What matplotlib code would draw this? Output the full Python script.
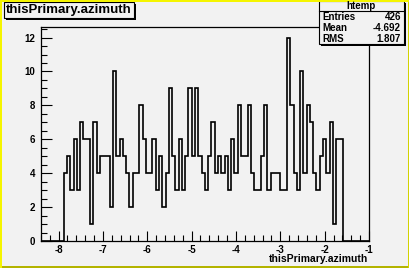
import matplotlib
matplotlib.use("Agg")
import matplotlib.pyplot as plt
from matplotlib.patches import Rectangle
from matplotlib.ticker import MultipleLocator
import numpy as np

plt.rcParams['font.family'] = ['Liberation Sans', 'DejaVu Sans']
plt.rcParams['axes.unicode_minus'] = False

# htemp: 100 bins on [-8.4, -1], filled from bin 7 on
xmin, xmax, nbins = -8.4, -1.0, 100
first_bin = 7
counts = [4, 5, 3, 6, 3, 7, 6, 6, 1, 7,
          4, 5, 5, 5, 2, 10, 5, 6, 5, 4,
          2, 4, 4, 8, 6, 4, 4, 6, 3, 5,
          2, 4, 9, 5, 3, 6, 3, 5, 9, 5,
          9, 5, 4, 3, 5, 7, 4, 5, 4, 5,
          3, 6, 4, 8, 5, 5, 8, 4, 3, 3,
          5, 8, 3, 4, 4, 4, 3, 3, 12, 8,
          4, 3, 10, 4, 8, 7, 4, 3, 5, 6,
          4, 7, 1, 6, 6]
hist_name = "htemp"
title = "thisPrimary.azimuth"
stats_labels = ["Entries", "Mean", "RMS"]
stats_values = ["426", "-4.692", "1.807"]

W, H = 410, 268
bg = "#f2f2f2"

fig = plt.figure(figsize=(W / 100, H / 100), dpi=100)
fig.patch.set_facecolor(bg)


def fx(px):
    return px / W


def fy(py):
    return 1 - py / H


def pave(x0, y0, x1, y1):
    # ROOT style box with a small black shadow
    fig.add_artist(Rectangle((fx(x0 + 2), fy(y1 + 2)), fx(x1 - x0), (y1 - y0) / H,
                             transform=fig.transFigure, facecolor="black", edgecolor="none"))
    fig.add_artist(Rectangle((fx(x0), fy(y1)), fx(x1 - x0), (y1 - y0) / H,
                             transform=fig.transFigure, facecolor=bg, edgecolor="black", lw=0.8))


ax = fig.add_axes([fx(40.8), fy(241), fx(369 - 40.8), (241 - 27.4) / H])
ax.set_facecolor(bg)

edges = np.linspace(xmin, xmax, nbins + 1)
values = np.zeros(nbins)
values[first_bin:first_bin + len(counts)] = counts
ax.stairs(values, edges, color="black", lw=1.2)

ax.set_xlim(xmin, xmax)
ax.set_ylim(0, 1.05 * max(counts))
ax.xaxis.set_major_locator(MultipleLocator(1))
ax.xaxis.set_minor_locator(MultipleLocator(0.2))
ax.yaxis.set_major_locator(MultipleLocator(2))
ax.yaxis.set_minor_locator(MultipleLocator(0.5))
ax.tick_params(which="both", direction="in", top=False, right=False, width=0.8,
               labelsize=7)
ax.tick_params(axis="x", which="major", length=7, pad=3)
ax.tick_params(axis="x", which="minor", length=4)
ax.tick_params(axis="y", which="major", length=8, pad=4)
ax.tick_params(axis="y", which="minor", length=4)
for lab in ax.get_xticklabels() + ax.get_yticklabels():
    lab.set_fontweight("bold")
for sp in ax.spines.values():
    sp.set_linewidth(0.9)

fig.text(fx(368), fy(259), title, ha="right", va="center", fontsize=7.5, fontweight="bold")

# title pave
pave(4, 2, 134, 18)
fig.text(fx(69), fy(10.3), title, ha="center", va="center", fontsize=9.5, fontweight="bold")

# stats pave
pave(319, 1, 404, 44)
fig.add_artist(plt.Line2D([fx(319), fx(404)], [fy(11), fy(11)], transform=fig.transFigure,
                          color="black", lw=0.8))
fig.text(fx(361.5), fy(6), hist_name, ha="center", va="center", fontsize=7, fontweight="bold")
for i, (lab, val) in enumerate(zip(stats_labels, stats_values)):
    y = fy(17.5 + i * 10.5)
    fig.text(fx(322), y, lab, ha="left", va="center", fontsize=7, fontweight="bold")
    fig.text(fx(401), y, val, ha="right", va="center", fontsize=7, fontweight="bold")

# canvas border
fig.add_artist(Rectangle((0, 0), 1, 2 / H, transform=fig.transFigure, facecolor="#b4b400", edgecolor="none"))
fig.add_artist(Rectangle((1 - 2 / W, 0), 2 / W, 1, transform=fig.transFigure, facecolor="#d2d200", edgecolor="none"))
fig.add_artist(Rectangle((0, 1 - 2 / H), 1, 2 / H, transform=fig.transFigure, facecolor="#f5f500", edgecolor="none"))
fig.add_artist(Rectangle((0, 0), 2 / W, 1, transform=fig.transFigure, facecolor="#f5f500", edgecolor="none"))

fig.savefig("out.png", dpi=100, facecolor=bg)
